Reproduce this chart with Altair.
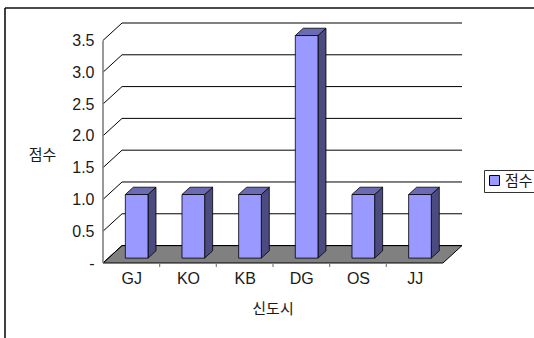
import json
import altair as alt
import pandas as pd

# ---- data ----
categories = ["GJ", "KO", "KB", "DG", "OS", "JJ"]
values = [1.0, 1.0, 1.0, 3.5, 1.0, 1.0]
y_ticks = [0.0, 0.5, 1.0, 1.5, 2.0, 2.5, 3.0, 3.5]
series_name = "점수"
y_title = "점수"
x_title = "신도시"

# ---- pseudo-3D geometry (in data units) ----
N = len(categories)
YMAX = y_ticks[-1]
DX = 0.336   # wall depth, category units
DY = 0.274   # wall depth, value units
BAR_W = 0.40
F0 = 0.28    # bar front plane depth fraction
FB = 0.42    # bar depth fraction
bx0, by0 = F0 * DX, F0 * DY
bdx, bdy = FB * DX, FB * DY

NUMFONT = "Liberation Sans Narrow, Liberation Sans, sans-serif"
KFONT = "Noto Sans CJK KR, sans-serif"

xs = alt.Scale(domain=[0, N + DX], nice=False, zero=False)
ys = alt.Scale(domain=[0, YMAX + DY], nice=False, zero=False)

x_axis = alt.Axis(
    values=[i + 0.5 for i in range(N)],
    labelExpr=json.dumps(categories) + "[round(datum.value - 0.5)]",
    domain=False, ticks=False, grid=False, labelPadding=7,
    labelFont=NUMFONT, labelFontSize=16, labelColor="#1a1a1a",
    title=x_title, titleX=169.5, titleY=45, titleBaseline="middle",
    titleFont=KFONT, titleFontSize=15, titleFontWeight="normal", titleColor="#1a1a1a",
)
y_axis = alt.Axis(
    values=y_ticks,
    labelExpr="datum.value == 0 ? '-' : format(datum.value, '.1f')",
    domain=False, ticks=False, grid=False, labelPadding=9,
    labelFont=NUMFONT, labelFontSize=16, labelColor="#1a1a1a", labelBaseline="middle",
    title=y_title, titleAngle=0, titleX=-61, titleY=131, titleAlign="center",
    titleBaseline="middle", titleFont=KFONT, titleFontSize=15,
    titleFontWeight="normal", titleColor="#1a1a1a",
)


def X(f):
    return alt.X(f, scale=xs, axis=x_axis, stack=False)


def Y(f):
    return alt.Y(f, scale=ys, axis=y_axis, stack=False)


# floor
floor_df = pd.DataFrame({"y": [0, DY], "x": [0, DX], "x2": [N, N + DX]})
floor = alt.Chart(floor_df).mark_area(
    orient="horizontal", fill="#808080", stroke="black", strokeWidth=1
).encode(y=Y("y:Q"), x=X("x:Q"), x2="x2:Q")

# back-wall gridlines
grid_df = pd.DataFrame({"x": [DX] * len(y_ticks), "x2": [N + DX] * len(y_ticks),
                        "y": [v + DY for v in y_ticks]})
grid = alt.Chart(grid_df).mark_rule(color="black", strokeWidth=1).encode(
    x=X("x:Q"), x2="x2:Q", y=Y("y:Q"))

# side-wall diagonals
diag_df = pd.DataFrame({"x": [0] * len(y_ticks), "x2": [DX] * len(y_ticks),
                        "y": y_ticks, "y2": [v + DY for v in y_ticks]})
diag = alt.Chart(diag_df).mark_rule(color="black", strokeWidth=1).encode(
    x=X("x:Q"), x2="x2:Q", y=Y("y:Q"), y2="y2:Q")

# front value axis line
axis_df = pd.DataFrame({"x": [0], "y": [0], "y2": [YMAX]})
vaxis = alt.Chart(axis_df).mark_rule(color="#808080", strokeWidth=1.6).encode(
    x=X("x:Q"), y=Y("y:Q"), y2="y2:Q")

# category boundary ticks
tick_df = pd.DataFrame({"x": list(range(1, N)), "y": [0] * (N - 1)})
cticks = alt.Chart(tick_df).mark_rule(color="#808080", strokeWidth=1.2).encode(
    x=X("x:Q"), y=Y("y:Q"), y2=alt.value(244))

# bars
rows_front, rows_side, rows_top = [], [], []
for i, (c, v) in enumerate(zip(categories, values)):
    L = i + 0.5 - BAR_W / 2 + bx0
    R = L + BAR_W
    rows_front.append({"cat": c, "series": series_name, "x": L, "x2": R, "y": by0, "y2": v + by0})
    rows_side.append({"cat": c, "x": R, "y": by0, "y2": v + by0})
    rows_side.append({"cat": c, "x": R + bdx, "y": by0 + bdy, "y2": v + by0 + bdy})
    rows_top.append({"cat": c, "y": v + by0, "x": L, "x2": R})
    rows_top.append({"cat": c, "y": v + by0 + bdy, "x": L + bdx, "x2": R + bdx})

front = alt.Chart(pd.DataFrame(rows_front)).mark_rect(stroke="black", strokeWidth=0.8).encode(
    x=X("x:Q"), x2="x2:Q", y=Y("y:Q"), y2="y2:Q",
    color=alt.Color("series:N", scale=alt.Scale(range=["#9999FF"]),
                    legend=alt.Legend(title=None, orient="none", legendX=381, legendY=147,
                                      padding=3, strokeColor="#333333",
                                      symbolType="square", symbolSize=100,
                                      symbolStrokeColor="black", symbolStrokeWidth=1,
                                      symbolOpacity=1,
                                      labelFont=KFONT, labelFontSize=15, labelColor="#1a1a1a",
                                      labelOffset=3, fillColor="white")),
)
side = alt.Chart(pd.DataFrame(rows_side)).mark_area(
    orient="vertical", fill="#4B4B80", stroke="black", strokeWidth=0.8
).encode(x=X("x:Q"), y=Y("y:Q"), y2="y2:Q", detail="cat:N")
top = alt.Chart(pd.DataFrame(rows_top)).mark_area(
    orient="horizontal", fill="#6B6BB3", stroke="black", strokeWidth=0.8
).encode(y=Y("y:Q"), x=X("x:Q"), x2="x2:Q", detail="cat:N")

# outer chart border (partly off-page, as in the reference)
frame_df = pd.DataFrame({"k": [0]})
frame_top = alt.Chart(frame_df).mark_rule(color="#111111", strokeWidth=1.6).encode(
    x=alt.value(-98), x2=alt.value(440), y=alt.value(-15))
frame_left = alt.Chart(frame_df).mark_rule(color="#111111", strokeWidth=1.6).encode(
    x=alt.value(-98), y=alt.value(-15), y2=alt.value(330))

chart = alt.layer(
    floor, grid, diag, vaxis, cticks, side, top, front, frame_top, frame_left
).properties(
    width=359, height=240,
    autosize=alt.AutoSizeParams(type="none"),
    padding={"left": 103, "top": 23, "right": 72, "bottom": 75},
    background="white",
).configure_view(stroke=None)

chart.save("out.html", embed_options={"renderer": "svg", "actions": False})
